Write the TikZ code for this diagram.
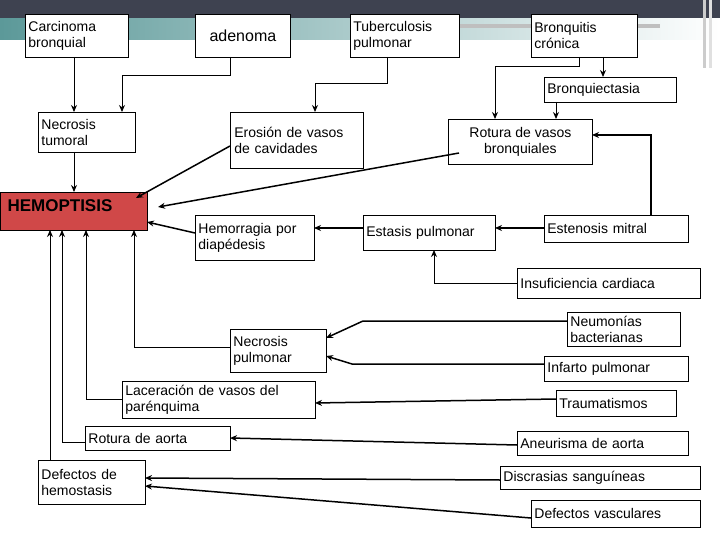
\documentclass[tikz,border=0pt]{standalone}
\usepackage{fontspec}
\setmainfont{Liberation Sans}
\usetikzlibrary{arrows.meta}
\begin{document}
\begin{tikzpicture}[x=1pt,y=-1pt,
  bx/.style={draw,line width=0.8pt,fill=white,anchor=north west,align=left,inner sep=4pt,font=\fontsize{14}{16}\selectfont},
  ar/.style={line width=1.5pt,-{Stealth[length=7pt,width=6pt]}},
  ln/.style={line width=1pt,-{Stealth[length=7pt,width=6pt]}}]
\useasboundingbox (0,0) rectangle (720,540);
\fill[white] (0,0) rectangle (720,540);
\fill[left color=teal!60!gray!80,right color=white] (0,16) rectangle (720,40);
\fill[black!25] (440,24) rectangle (660,28);
\fill[fill={rgb,255:red,62;green,66;blue,80}] (0,0) rectangle (720,18);
\fill[black!20] (703,0) rectangle (706,68);
\fill[black!12] (709,0) rectangle (712,68);
\newcommand\bx[6]{\node[bx,minimum width=#4-#2,minimum height=#5-#3,text width=#4-#2-6,inner xsep=3pt] (#1) at (#2,#3) {#6};}
\bx{carc}{25}{14}{128}{57}{Carcinoma\\bronquial}
\node[draw,line width=0.8pt,fill=white,anchor=north west,minimum width=95,minimum height=43,font=\fontsize{16}{18}\selectfont,inner sep=0pt] (aden) at (195,14) {adenoma};
\bx{tub}{350}{14}{459}{57}{Tuberculosis\\pulmonar}
\bx{bronq}{531}{14}{637}{57}{Bronquitis\\crónica}
\bx{bect}{544}{77}{676}{102}{Bronquiectasia}
\bx{nect}{38}{112}{135}{152}{Necrosis\\tumoral}
\node[bx,minimum width=133,minimum height=56,text width=125,anchor=north west,inner ysep=4pt] (eros) at (230,112) {Erosión de vasos\\de cavidades\\[7pt]};
\node[draw,line width=0.8pt,fill=white,anchor=north west,minimum width=144,minimum height=45,align=center,font=\fontsize{14}{16}\selectfont] (rotv) at (448,119) {Rotura de vasos\\bronquiales};
\node[draw,line width=0.8pt,fill={rgb,255:red,208;green,72;blue,72},anchor=north west,minimum width=147,minimum height=38,inner sep=0pt] (hemo) at (0,192) {};
\node[anchor=west,font=\fontsize{17}{18}\bfseries] at (4,206) {HEMOPTISIS};
\bx{hemd}{195}{215}{314}{260}{Hemorragia por\\diapédesis}
\bx{esta}{363}{215}{495}{250}{Estasis pulmonar}
\bx{este}{544}{215}{688}{242}{Estenosis mitral}
\bx{insu}{517}{268}{700}{298}{Insuficiencia cardiaca}
\bx{neum}{567}{312}{680}{346}{Neumonías\\bacterianas}
\node[bx,minimum width=96,minimum height=43,text width=90,inner xsep=3pt] (necp) at (230,329) {Necrosis\\pulmonar};
\bx{infa}{544}{356}{688}{381}{Infarto pulmonar}
\bx{lace}{122}{381}{315}{416}{Laceración de vasos del\\parénquima}
\bx{trau}{556}{390}{676}{416}{Traumatismos}
\bx{rota}{85}{426}{230}{450}{Rotura de aorta}
\bx{aneu}{517}{431}{688}{455}{Aneurisma de aorta}
\bx{defh}{38}{460}{145}{504}{Defectos de\\hemostasis}
\bx{disc}{500}{466}{700}{489}{Discrasias sanguíneas}
\bx{defv}{531}{500}{700}{527}{Defectos vasculares}
% top connectors
\draw[ln] (74,57) -- (74,112);
\draw[ln] (230,57) -- (230,76) -- (122,76) -- (122,112);
\draw[ln] (387,57) -- (387,84) -- (315,84) -- (315,112);
\draw[ln] (579,57) -- (579,67) -- (495,67) -- (495,119);
\draw[ln] (603,57) -- (603,77);
\draw[ln] (556,102) -- (556,119);
\draw[ln] (74,152) -- (74,192);
\draw[ar] (230,146) -- (136,198);
\draw[ar] (459,153) -- (158,207);
\draw[ar] (651,215) -- (651,135) -- (592,135);
\draw[ar] (544,228) -- (495,228);
\draw[ar] (363,228) -- (314,228);
\draw[ar] (195,233) -- (147,222);
\draw[ln] (517,283) -- (434,283) -- (434,250);
% verticals into hemoptisis
\draw[ln] (necp.west |- 0,347) -- (134,347) -- (134,230);
\draw[ln] (lace.west |- 0,399) -- (86,399) -- (86,230);
\draw[ln] (rota.west |- 0,442) -- (62,442) -- (62,230);
\draw[ln] (50,460) -- (50,230);
% right side
\draw[ar] (567,321) -- (363,321) -- (326,338);
\draw[ar] (544,364) -- (352,364) -- (326,356);
\draw[ar] (556,399) -- (315,403);
\draw[ar] (517,445) -- (230,438);
\draw[ar] (500,480) -- (145,478);
\draw[ar] (531,518) -- (145,486);
\end{tikzpicture}
\end{document}
